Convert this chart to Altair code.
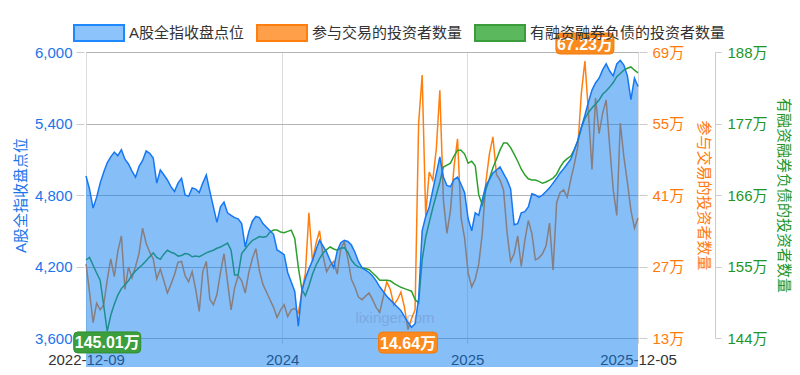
import altair as alt
import pandas as pd

S_IDX = "A股全指收盘点位"
S_ORG = "参与交易的投资者数量"
S_GRN = "有融资融券负债的投资者数量"

# weekly dates 2022-12-09 .. 2025-12-05
dates = pd.date_range("2022-12-09", periods=157, freq="7D").strftime("%Y-%m-%d").tolist()

index_close = [
    4960, 4850, 4690, 4780, 4900, 4990, 5070, 5120, 5160, 5130,
    5180, 5100, 5060, 5000, 4950, 5040, 5090, 5170, 5150, 5110,
    4900, 5010, 4970, 4926, 4870, 4830, 4900, 4940, 4800, 4790,
    4860, 4850, 4820, 4900, 4968, 4830, 4700, 4570, 4700, 4740,
    4650, 4630, 4610, 4600, 4560, 4364, 4490, 4580, 4620, 4610,
    4560, 4530, 4500, 4470, 4339, 4320, 4300, 4150, 4070, 3990,
    3700, 4000, 4100, 4180, 4250, 4340, 4420, 4370, 4320, 4250,
    4190, 4330, 4400, 4420, 4410, 4380, 4320, 4240, 4190, 4170,
    4150, 4120, 4080, 4030, 3990, 3950, 3920, 3890, 3860, 3830,
    3780, 3730, 3690, 3720, 3930, 4500, 4620, 4700, 4840, 4980,
    5120, 4950, 4880, 4870, 4930, 4950, 4890, 4820, 4600, 4500,
    4650, 4630, 4760, 4880, 4930, 4985, 5010, 5035, 4980, 4926,
    4850, 4550, 4560, 4650, 4660, 4700, 4810, 4800, 4780, 4800,
    4830, 4860, 4900, 4940, 4985, 5020, 5060, 5100, 5180, 5260,
    5370, 5470, 5580, 5680, 5740, 5780, 5850, 5900, 5840, 5800,
    5900, 5930, 5890, 5800, 5600, 5780, 5710,
]

traders_wan = [
    27.5, 22.0, 16.0, 19.8, 18.5, 19.5, 24.4, 28.5, 25.0, 30.0,
    33.0, 22.5, 26.9, 24.8, 27.0, 29.6, 34.5, 31.5, 29.8, 28.5,
    24.6, 26.5, 24.2, 21.8, 23.5, 25.4, 27.8, 28.0, 25.2, 24.0,
    26.0, 22.5, 18.2, 26.0, 28.0, 20.6, 19.5, 21.5, 25.8, 29.5,
    24.0, 18.5, 22.8, 25.2, 24.2, 21.8, 25.8, 28.5, 30.5, 26.2,
    23.5, 22.0, 20.5, 19.0, 17.0, 18.5, 19.5, 17.2, 18.5, 18.8,
    17.9, 22.0, 25.7, 37.5, 28.0, 31.5, 34.0, 29.0, 26.0, 27.2,
    28.0, 25.5, 30.5, 31.8, 28.5, 24.5, 23.0, 21.0, 20.5, 21.2,
    21.8, 20.5, 19.0, 18.0, 21.0, 24.0, 22.5, 19.5, 20.5, 22.0,
    19.0, 14.64, 16.8, 18.5, 55.0, 64.5, 37.0, 45.5, 43.9, 50.0,
    61.5, 40.0, 33.5, 38.0, 46.5, 52.0, 36.5, 32.5, 25.7, 23.0,
    24.5, 27.5, 33.5, 43.5, 49.0, 52.4, 45.0, 43.9, 42.0, 33.6,
    28.0, 29.5, 33.0, 27.0, 32.0, 36.0, 33.5, 28.3, 28.7, 29.5,
    31.0, 35.5, 26.3, 39.5, 41.5, 42.0, 40.6, 44.0, 47.0, 50.5,
    61.0, 67.23, 57.0, 46.0, 60.0, 53.0, 57.0, 59.6, 50.5, 42.0,
    37.0, 55.1, 48.5, 43.5, 38.0, 34.5, 36.5,
]

margin_wan = [
    156.0, 156.4, 155.2, 154.0, 152.9, 149.0, 145.01, 147.5, 149.2, 150.6,
    151.6, 152.2, 152.8, 153.7, 154.3, 154.8, 155.3, 155.9, 156.5, 157.1,
    156.4, 156.1, 156.9, 157.5, 157.2, 157.0, 156.6, 156.7, 157.0, 156.9,
    156.5, 156.6, 156.5, 156.8, 157.1, 157.3, 157.5, 157.8, 158.0, 158.3,
    158.6, 157.5, 153.7, 153.7, 157.0, 157.7, 158.4, 159.0, 159.3, 159.6,
    159.5, 159.6, 160.3, 160.6, 160.6, 160.3, 160.2, 160.4, 160.6, 159.3,
    154.9, 151.5, 150.5, 152.0, 153.8, 155.2, 156.2, 157.1, 157.6, 158.0,
    157.7, 157.5, 157.8, 157.9, 157.2, 156.0, 155.3, 154.9, 154.8, 154.7,
    154.5, 154.0, 153.5, 152.9, 152.9, 152.9, 152.8, 152.4, 152.1, 151.8,
    151.6, 151.4, 151.2, 149.9, 149.4, 156.0, 159.5, 161.8, 164.0, 166.0,
    168.0, 170.3, 170.6, 170.9, 172.0, 172.9, 172.9, 172.3, 170.9, 171.2,
    170.5, 166.0, 164.5, 166.8, 168.5, 170.2, 171.5, 172.9, 174.0, 174.0,
    173.3, 172.3, 171.2, 170.0, 169.1, 168.5, 168.3, 168.3, 168.1, 167.8,
    168.0, 168.3, 168.6, 169.2, 170.3, 171.1, 171.6, 172.0, 173.0, 174.3,
    176.3, 177.8, 178.7, 179.4, 180.0, 180.6, 181.5, 182.0, 182.6, 183.3,
    184.2, 184.7, 185.2, 185.5, 185.7, 185.2, 184.8,
]

idx_ticks = [3600, 4200, 4800, 5400, 6000]
org_ticks = [13, 27, 41, 55, 69]
grn_ticks = [144, 155, 166, 177, 188]
series_names = [S_IDX, S_ORG, S_GRN]

df = pd.DataFrame({"date": dates, "idx": index_close, "org": traders_wan, "grn": margin_wan})

FONT = "Liberation Sans, Noto Sans CJK SC"
C_BLUE_TXT = "#1a74ea"
C_ORG_TXT = "#ff7a0d"
C_GRN_TXT = "#21962a"


def dt(s):
    y, m, d = [int(v) for v in s.split("-")]
    return alt.DateTime(year=y, month=m, date=d, utc=True)


x_enc = alt.X(
    "date:T",
    scale=alt.Scale(domain=[dt(dates[0]), dt(dates[-1])]),
    axis=alt.Axis(
        title=None,
        values=[dt(dates[0]), dt("2024-01-01"), dt("2025-01-01"), dt(dates[-1])],
        labelExpr="utcFormat(datum.value, '%m-%d') == '01-01' ? utcFormat(datum.value, '%Y') : utcFormat(datum.value, '%Y-%m-%d')",
        labelFontSize=15, labelColor="#333333", labelFont=FONT,
        labelOverlap=False, labelBound=False, labelFlush=False,
        tickSize=5, tickColor="#cccccc", labelPadding=9,
        grid=True, gridColor="#dcdcdc", domain=False,
    ),
)


def yscale(dom):
    return alt.Scale(domain=dom, nice=False, zero=False)


y_idx = alt.Y("idx:Q", scale=yscale([idx_ticks[0], idx_ticks[-1]]), axis=alt.Axis(
    orient="left", title=S_IDX, values=idx_ticks, format=",d",
    labelFontSize=15, labelColor=C_BLUE_TXT, labelFont=FONT,
    titleFontSize=15, titleColor=C_BLUE_TXT, titleFont=FONT, titleFontWeight="normal", titlePadding=6,
    tickSize=8, tickColor="#cccccc", labelPadding=4, offset=2,
    grid=True, gridColor="#b4b4b4", domain=False,
))

y_org = alt.Y("org:Q", scale=yscale([org_ticks[0], org_ticks[-1]]), axis=alt.Axis(
    orient="right", title=S_ORG, values=org_ticks, labelExpr="datum.value + '万'",
    labelFontSize=15, labelColor=C_ORG_TXT, labelFont=FONT,
    titleFontSize=15, titleColor=C_ORG_TXT, titleFont=FONT, titleFontWeight="normal", titlePadding=12,
    tickSize=8, tickColor="#cccccc", labelPadding=5, offset=1,
    grid=False, domain=False,
))

y_grn = alt.Y("grn:Q", scale=yscale([grn_ticks[0], grn_ticks[-1]]), axis=alt.Axis(
    orient="right", title=S_GRN, values=grn_ticks, labelExpr="datum.value + '万'",
    labelFontSize=15, labelColor=C_GRN_TXT, labelFont=FONT,
    titleFontSize=15, titleColor=C_GRN_TXT, titleFont=FONT, titleFontWeight="normal", titlePadding=8,
    tickSize=6, tickColor="#cccccc", labelPadding=6, offset=77,
    grid=False, domain=True, domainColor="#cccccc",
))

base = alt.Chart(df)

org_line = base.mark_line(color="#ff7f0e", strokeWidth=1.5).encode(x=x_enc, y=y_org)
grn_line = base.mark_line(color="#2ca02c", strokeWidth=1.5).encode(x=x_enc, y=y_grn)
idx_area = base.mark_area(
    fill="#0d7df1", fillOpacity=0.5,
    line=alt.OverlayMarkDef(color="#1677f2", strokeWidth=1.5),
).encode(x=x_enc, y=y_idx)


def box_path(w, h, r=4):
    hw, hh, rr = w / 20, h / 20, r / 10
    return (f"M{-hw+rr},{-hh}H{hw-rr}Q{hw},{-hh} {hw},{-hh+rr}V{hh-rr}Q{hw},{hh} {hw-rr},{hh}"
            f"H{-hw+rr}Q{-hw},{hh} {-hw},{hh-rr}V{-hh+rr}Q{-hw},{-hh} {-hw+rr},{-hh}Z")


def annot(i, field, values, ticks, fill, stroke, w, yoff):
    v = values[i]
    d = pd.DataFrame({"date": [dates[i]], field: [v], "label": [f"{v:.2f}万"]})
    y = alt.Y(f"{field}:Q", scale=yscale([ticks[0], ticks[-1]]), axis=None)
    box = alt.Chart(d).mark_point(
        shape=box_path(w, 21), size=400, filled=True, fill=fill, stroke=stroke,
        strokeWidth=1, opacity=1, yOffset=yoff,
    ).encode(x=x_enc, y=y)
    txt = alt.Chart(d).mark_text(
        color="white", fontSize=16, fontWeight="bold", font=FONT, yOffset=yoff + 1,
        align="center", baseline="middle",
    ).encode(x=x_enc, y=y, text="label:N")
    return [box, txt]


i_max = traders_wan.index(max(traders_wan))
i_min = traders_wan.index(min(traders_wan))
g_min = margin_wan.index(min(margin_wan))

annots = (
    annot(i_max, "org", traders_wan, org_ticks, "#fa8a1e", "#f07c10", 58, -17.5)
    + annot(i_min, "org", traders_wan, org_ticks, "#fa8a1e", "#f07c10", 59, 13)
    + annot(g_min, "grn", margin_wan, grn_ticks, "#3c9e3c", "#2f8f2f", 67, 11)
)

LEG_PATH = "M-1,-0.8H4V0.8H-1Z"
leg_kw = dict(
    orient="none", legendX=-13, legendY=-30, direction="horizontal", title=None,
    symbolType=LEG_PATH, symbolSize=400, symbolStrokeWidth=2, symbolOpacity=1,
    labelFontSize=15, labelColor="#333333", labelFont=FONT, labelOffset=34,
    labelLimit=400, columnPadding=8,
)
leg_df = pd.DataFrame({"series": series_names})
legend_layer = alt.Chart(leg_df).mark_point(filled=True).encode(
    fill=alt.Fill("series:N", scale=alt.Scale(domain=series_names, range=["#8cc3fa", "#ff9f4a", "#5cb85c"]),
                  legend=alt.Legend(**leg_kw)),
    stroke=alt.Stroke("series:N", scale=alt.Scale(domain=series_names, range=["#1e88ff", "#ff7f0e", "#3a9c3a"]),
                      legend=alt.Legend(**leg_kw)),
).transform_filter("false")

watermark = alt.Chart(pd.DataFrame({"t": ["lixinger.com"]})).mark_text(
    fontSize=15, color="#6f8fc0", opacity=0.45, font=FONT,
).encode(x=alt.value(309), y=alt.value(266), text="t:N")

chart = alt.layer(
    org_line, grn_line, idx_area, watermark, *annots, legend_layer
).resolve_scale(y="independent").resolve_axis(y="independent").properties(
    width=552, height=286,
    autosize=alt.AutoSizeParams(type="none"),
    padding={"left": 78, "top": 44, "right": 154, "bottom": 29},
).configure(font=FONT).configure_view(stroke="#b0b0b0", strokeWidth=1)

chart.save("out.html", embed_options={"renderer": "svg", "actions": False})
